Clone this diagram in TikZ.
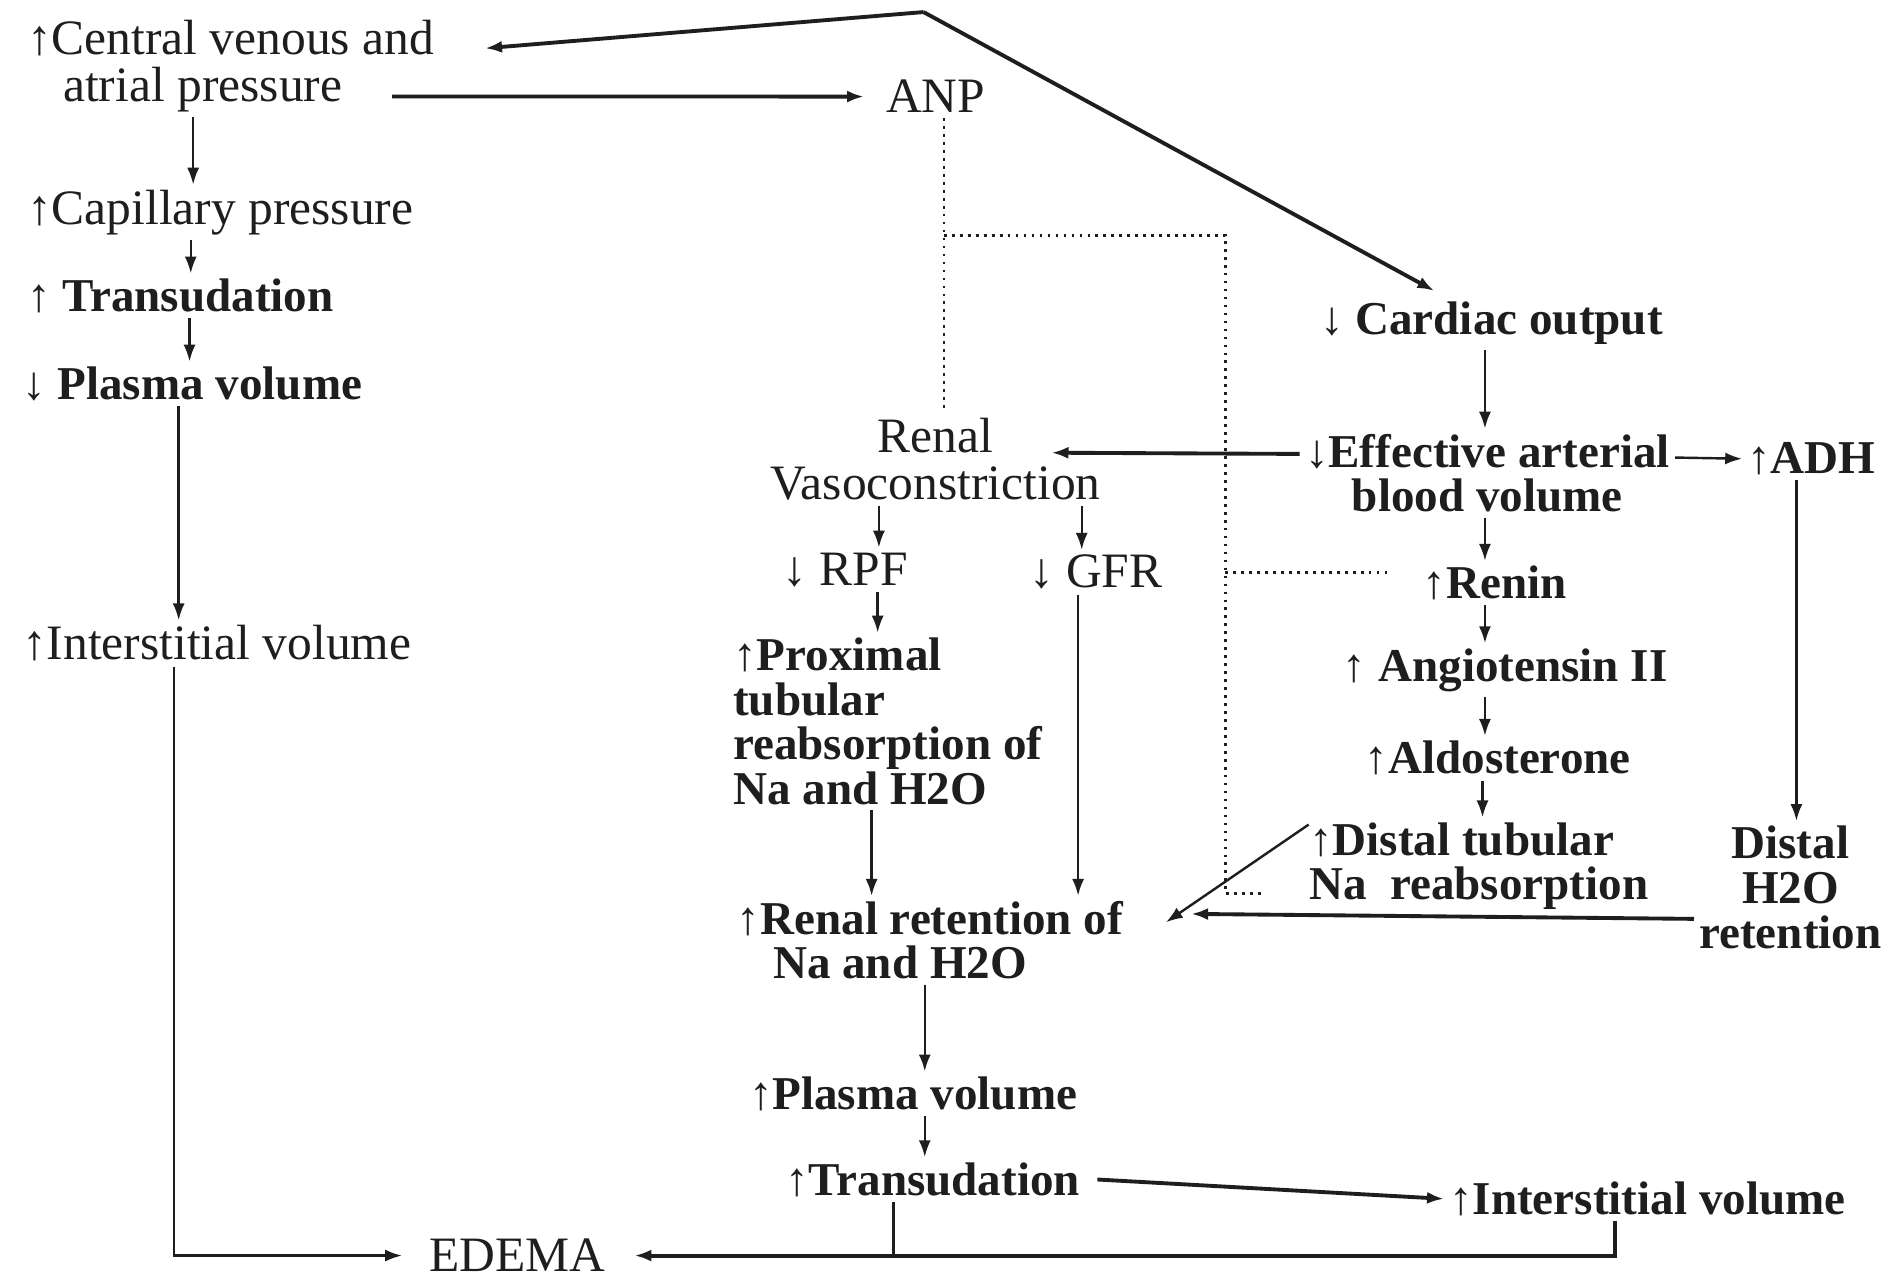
\documentclass[tikz,border=0pt]{standalone}
\usepackage{fontspec}
\setmainfont{Liberation Serif}
\usetikzlibrary{arrows.meta}
\definecolor{ink}{HTML}{1E1E1E}
\begin{document}
\begin{tikzpicture}[x=0.5pt,y=-0.5pt,
  lbl/.style={inner xsep=2pt, inner ysep=2pt, text=ink, font=\fontsize{20.5}{19.5}\selectfont},
  blbl/.style={inner xsep=2pt, inner ysep=2pt, text=ink, font=\fontsize{19.5}{18.5}\selectfont\bfseries},
  arr/.style={draw=ink, line width=1pt, -{Latex[length=7pt,width=5pt]}},
  heavy/.style={arr, line width=1.6pt},
  plainline/.style={draw=ink, line width=1.2pt},
  dotline/.style={draw=ink, line width=1.1pt, dash pattern=on 1.1pt off 2.2pt}
]
\useasboundingbox (0,0) rectangle (1568,1063);
\fill[white] (0,0) rectangle (1568,1063);

% left column
\node[lbl, anchor=north west, align=left] (cvp) at (18,12) {↑Central venous and\\\hspace*{15pt}atrial pressure};
\node[lbl] (anp) at (775,80) {ANP};
\node[lbl, anchor=west] (cap) at (18,176) {↑Capillary pressure};
\node[blbl, anchor=west] (tr1) at (18,245) {↑ Transudation};
\node[blbl, anchor=west] (pl1) at (14,318) {↓ Plasma volume};
\node[lbl, anchor=west] (iv1) at (14,533) {↑Interstitial volume};
\node[lbl, anchor=west] (edema) at (351,1040) {EDEMA};

% right part
\node[blbl, anchor=west] (co) at (1089,268) {↓ Cardiac output};
\node[lbl, anchor=north, align=center] (rv) at (775,342) {Renal\\Vasoconstriction};
\node[blbl, anchor=north, align=center] (eab) at (1232,355) {↓Effective arterial\\blood volume};
\node[blbl, anchor=west] (adh) at (1443,380) {↑ADH};
\node[lbl, anchor=west] (rpf) at (644,472) {↓ RPF};
\node[lbl, anchor=west] (gfr) at (848,474) {↓ GFR};
\node[blbl, anchor=west] (renin) at (1174,483) {↑Renin};
\node[blbl, anchor=west] (ang) at (1108,555) {↑ Angiotensin II};
\node[blbl, anchor=west] (ald) at (1126,628) {↑Aldosterone};
\node[blbl, anchor=north west, align=left] (dtr) at (1080,677) {↑Distal tubular\\Na\enspace reabsorption};
\node[blbl, anchor=north, align=center] (dh) at (1483,680) {Distal\\H2O\\retention};
\node[blbl, anchor=north west, align=left] (prox) at (603,524) {↑Proximal\\tubular\\reabsorption of\\Na and H2O};
\node[blbl, anchor=north west, align=left] (rr) at (606,742) {↑Renal retention of\\\hspace*{15pt}Na and H2O};
\node[blbl, anchor=west] (pl2) at (616,906) {↑Plasma volume};
\node[blbl, anchor=west] (tr2) at (646,977) {↑Transudation};
\node[blbl, anchor=west] (iv2) at (1196,993) {↑Interstitial volume};

% apex of the top connectors
\coordinate (apex) at (765,10);
\draw[heavy] (apex) -- ([shift={(38,28)}]cvp.north east);
\draw[heavy] (apex) -- ([shift={(99,-5)}]co.north west);
\draw[heavy] ([shift={(-39,-17)}]cvp.south east) -- ([xshift=-7pt]anp.west);

% left chain
\draw[arr] (cvp.south -| 160,0) -- (cap.north -| 160,0);
\draw[arr] (cap.south -| 158,0) -- (tr1.north -| 158,0);
\draw[arr] (tr1.south -| 157,0) -- (pl1.north -| 157,0);
\draw[arr] (pl1.south -| 148,0) -- (iv1.north -| 148,0);
\draw[arr] (iv1.south -| 144,0) |- ([xshift=-9pt]edema.west);

% bottom
\draw[arr] (rr.south -| 766,0) -- (pl2.north -| 766,0);
\draw[arr] (pl2.south -| 766,0) -- (tr2.north -| 766,0);
\draw[heavy] ([xshift=5pt]tr2.east) -- (iv2.west);
\draw[plainline] (tr2.south -| 740,0) -- (740,0 |- edema.east);
\draw[heavy] (iv2.south -| 1338,0) |- ([xshift=10pt]edema.east);

% right chain
\draw[arr] (co.south -| 1230,0) -- (eab.north -| 1230,0);
\draw[heavy] ([yshift=-10.5pt]eab.north west) -- ([shift={(-45,33)}]rv.north east);
\draw[arr] ([yshift=-12pt]eab.north east) -- (adh.west);
\draw[arr] (eab.south -| 1230,0) -- (renin.north -| 1230,0);
\draw[arr] (renin.south -| 1230,0) -- (ang.north -| 1230,0);
\draw[arr] (ang.south -| 1230,0) -- (ald.north -| 1230,0);
\draw[arr] (ald.south -| 1228,0) -- (dtr.north -| 1228,0);
\draw[arr] ([shift={(4,6)}]dtr.north west) -- ([shift={(31,22)}]rr.north east);
\draw[arr] (adh.south -| 1488,0) -- (dh.north -| 1488,0);
\draw[heavy] ([yshift=-13pt]dh.west) -- ([shift={(52,15)}]rr.north east);

% renal branch
\draw[arr] (rv.south -| 728,0) -- (rpf.north -| 728,0);
\draw[arr] (rv.south -| 896,0) -- (gfr.north -| 896,0);
\draw[arr] (rpf.south -| 727,0) -- (prox.north -| 727,0);
\draw[arr] (gfr.south -| 893,0) -- (rr.north -| 893,0);
\draw[arr] (prox.south -| 722,0) -- (rr.north -| 722,0);

% dotted ANP inhibition lines
\coordinate (dA) at (782,195);
\coordinate (dB) at (1015,195);
\coordinate (dC) at (1015,740);
\coordinate (dD) at (1045,740);
\coordinate (dE) at (1015,474);
\coordinate (dF) at (1150,474);
\draw[dotline] (anp.south -| dA) -- (dA |- rv.north);
\draw[dotline] (dA) -- (dB) -- (dC) -- (dD);
\draw[dotline] (dE) -- (dF);
\end{tikzpicture}
\end{document}
